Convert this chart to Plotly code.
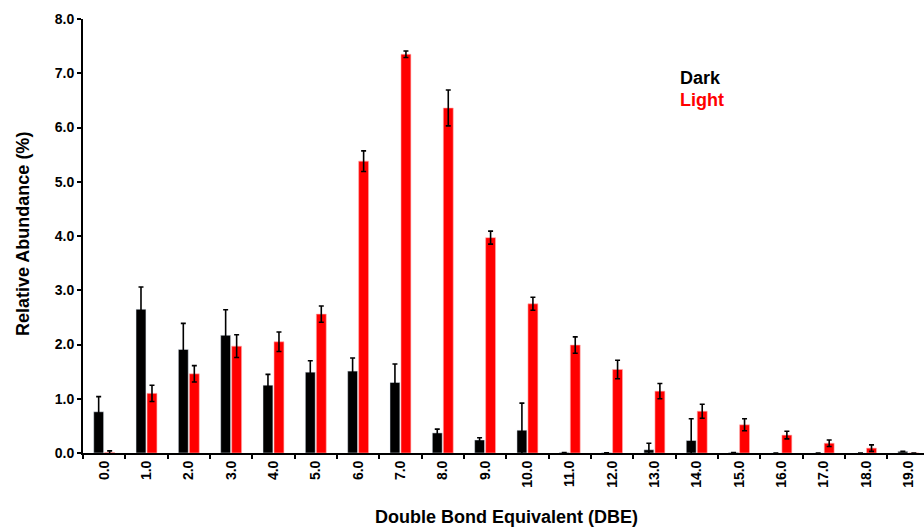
import plotly.graph_objects as go

categories = [f"{i}.0" for i in range(20)]
dark = [0.76, 2.65, 1.91, 2.17, 1.25, 1.49, 1.51, 1.30, 0.37, 0.24, 0.42, 0.01, 0.005, 0.06, 0.23, 0.01, 0.0, 0.0, 0.0, 0.03]
dark_err = [0.28, 0.41, 0.48, 0.47, 0.20, 0.21, 0.24, 0.34, 0.07, 0.04, 0.50, 0.0, 0.0, 0.12, 0.40, 0.0, 0.0, 0.0, 0.0, 0.0]
light = [0.01, 1.10, 1.46, 1.97, 2.05, 2.56, 5.38, 7.35, 6.36, 3.97, 2.75, 1.99, 1.54, 1.14, 0.77, 0.52, 0.33, 0.18, 0.09, 0.0]
light_err = [0.03, 0.15, 0.15, 0.21, 0.18, 0.15, 0.19, 0.06, 0.33, 0.12, 0.12, 0.15, 0.17, 0.14, 0.13, 0.11, 0.07, 0.06, 0.06, 0.0]
y_ticks = [0, 1, 2, 3, 4, 5, 6, 7, 8]

FONT = "Liberation Sans, Arial, sans-serif"
W, H = 924, 527
L, R, T, B = 83, 0, 19, 74

fig = go.Figure()
fig.add_trace(go.Bar(
    x=categories, y=dark, name="Dark", marker_color="#000000",
    error_y=dict(type="data", array=dark_err, color="#000000", thickness=1.6, width=2.5),
    showlegend=False))
fig.add_trace(go.Bar(
    x=categories, y=light, name="Light", marker_color="#ff0000",
    marker_line=dict(color="#ffb0b0", width=0.6),
    error_y=dict(type="data", array=light_err, color="#000000", thickness=1.6, width=2.5),
    showlegend=False))

def px_to_paper(x, y):
    return (x - L) / (W - L - R), (H - B - y) / (H - T - B)

dx, dy = px_to_paper(678, 78)
lx, ly = px_to_paper(678, 100)
xtx, xty = px_to_paper(506, 517)
ytx, yty = px_to_paper(23, 234)

fig.update_layout(
    width=W, height=H,
    margin=dict(l=L, r=R, t=T, b=B),
    paper_bgcolor="white", plot_bgcolor="white",
    barmode="group", bargap=0.48, bargroupgap=0.1,
    font=dict(family=FONT, color="#000000"),
    xaxis=dict(
        type="category", range=[-0.5, 19.37], automargin=False,
        tickmode="array", tickvals=categories, ticktext=[f"<b>{c}</b>" for c in categories],
        tickson="boundaries", ticks="outside", ticklen=4, tickwidth=2, tickcolor="#000000",
        showline=True, linecolor="#000000", linewidth=2,
        tickangle=-90, tickfont=dict(size=14, family=FONT),
        showgrid=False, zeroline=False,
    ),
    yaxis=dict(
        range=[0, 8], automargin=False,
        tickmode="array", tickvals=y_ticks, ticktext=[f"<b>{v:.1f}</b>" for v in y_ticks],
        ticks="outside", ticklen=4, tickwidth=2, tickcolor="#000000",
        showline=True, linecolor="#000000", linewidth=2,
        tickfont=dict(size=14, family=FONT),
        showgrid=False, zeroline=False,
    ),
    annotations=[
        dict(text="<b>Dark</b>", x=dx, y=dy, xref="paper", yref="paper",
             showarrow=False, xanchor="left", yanchor="middle", font=dict(size=18, color="#000000")),
        dict(text="<b>Light</b>", x=lx, y=ly, xref="paper", yref="paper",
             showarrow=False, xanchor="left", yanchor="middle", font=dict(size=18, color="#ff0000")),
        dict(text="<b>Double Bond Equivalent (DBE)</b>", x=xtx, y=xty, xref="paper", yref="paper",
             showarrow=False, xanchor="center", yanchor="middle", font=dict(size=18, color="#000000")),
        dict(text="<b>Relative Abundance (%)</b>", x=ytx, y=yty, xref="paper", yref="paper",
             showarrow=False, xanchor="center", yanchor="middle", textangle=-90,
             font=dict(size=18, color="#000000")),
    ],
)

fig.write_html("out.html", config={"displayModeBar": False},
               post_script="document.body.style.margin='0';document.body.style.overflow='hidden';")
